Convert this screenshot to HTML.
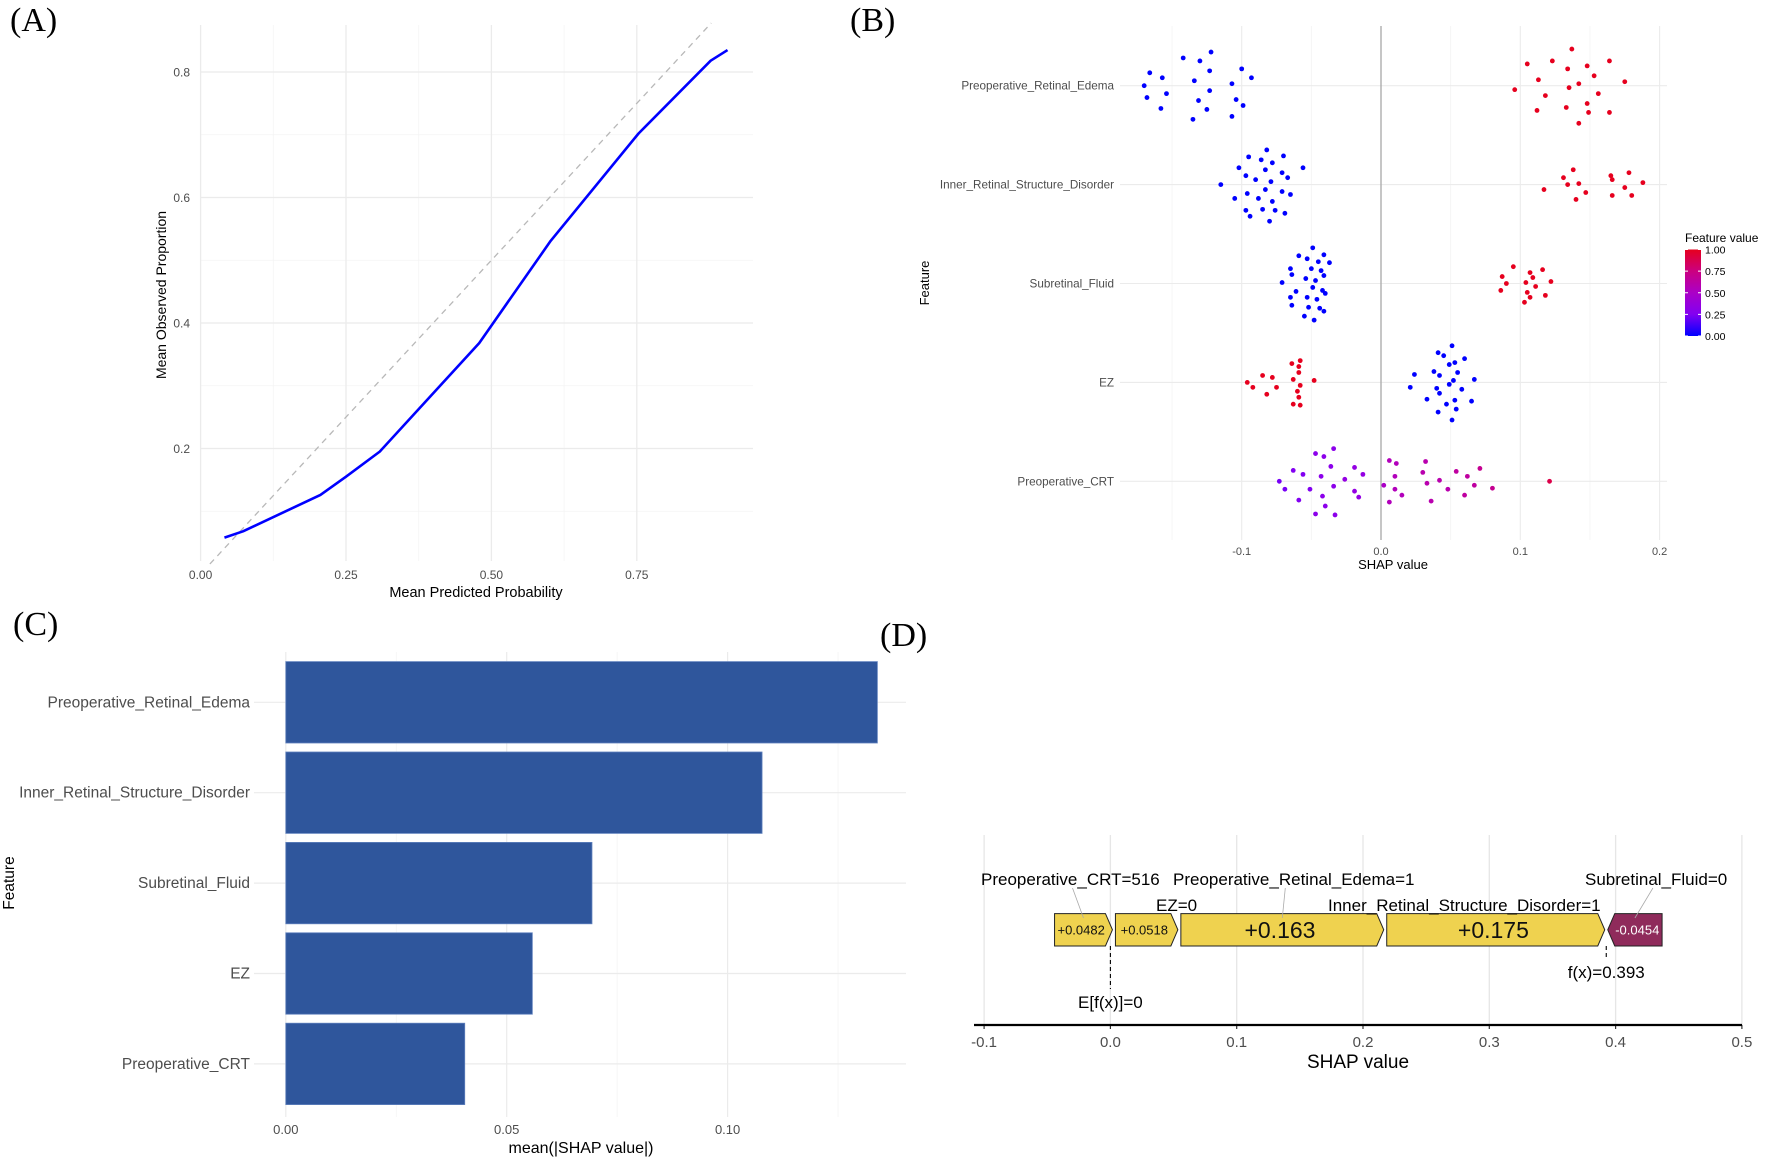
<!DOCTYPE html>
<html><head><meta charset="utf-8"><style>
html,body{margin:0;padding:0;background:#fff}
svg{display:block}
text{font-family:"Liberation Sans",Arial,sans-serif}
.lbl{font-family:"Liberation Serif",serif;font-size:34px;fill:#000}
</style></head><body>
<svg id="fig" width="1772" height="1161" viewBox="0 0 1772 1161" xmlns="http://www.w3.org/2000/svg">
<text class="lbl" x="10" y="31">(A)</text>
<text class="lbl" x="850" y="31">(B)</text>
<text class="lbl" x="13" y="635">(C)</text>
<text class="lbl" x="880" y="646">(D)</text>
<g id="pa"></g>
<g id="pb"></g>
<g id="pc"></g>
<g id="pd"></g>
</svg>
<script>
// ---------- Panel A data ----------
const calX = [0.041,0.073,0.206,0.25,0.308,0.479,0.602,0.753,0.877,0.906];
const calY = [0.058,0.068,0.126,0.155,0.195,0.368,0.531,0.702,0.818,0.835];
const aXTicks = ["0.00","0.25","0.50","0.75"];
const aXTickVals = [0,0.25,0.5,0.75];
const aYTicks = ["0.2","0.4","0.6","0.8"];
const aYTickVals = [0.2,0.4,0.6,0.8];

// ---------- Panel B data ----------
const features = ["Preoperative_Retinal_Edema","Inner_Retinal_Structure_Disorder","Subretinal_Fluid","EZ","Preoperative_CRT"];
const bTickVals = [-0.1,0,0.1,0.2];
const bTicks = ["-0.1","0.0","0.1","0.2"];
const edemaShap = [-0.122,-0.142,-0.130,-0.100,-0.166,-0.123,-0.157,-0.093,-0.134,-0.107,-0.170,-0.123,-0.154,-0.168,-0.131,-0.104,-0.099,-0.158,-0.125,-0.107,-0.135,
 0.137,0.105,0.123,0.164,0.148,0.134,0.153,0.113,0.175,0.142,0.135,0.096,0.156,0.118,0.148,0.133,0.112,0.149,0.164,0.142];
const edemaJit = [-0.34,-0.28,-0.25,-0.17,-0.13,-0.15,-0.08,-0.08,-0.05,-0.02,0,0.05,0.08,0.12,0.15,0.14,0.20,0.23,0.24,0.31,0.34,
 -0.37,-0.22,-0.25,-0.25,-0.20,-0.17,-0.10,-0.06,-0.04,-0.02,0.02,0.04,0.08,0.10,0.18,0.22,0.25,0.27,0.27,0.38];
const edemaVal = [0,0,0,0,0,0,0,0,0,0,0,0,0,0,0,0,0,0,0,0,0,1,1,1,1,1,1,1,1,1,1,1,1,1,1,1,1,1,1,1,1];
const innerShap = [-0.082,-0.070,-0.095,-0.086,-0.078,-0.102,-0.083,-0.056,-0.071,-0.097,-0.090,-0.067,-0.079,-0.115,-0.083,-0.071,-0.096,-0.065,-0.088,-0.105,-0.078,-0.085,-0.097,-0.076,-0.069,-0.094,-0.080,
 0.138,0.131,0.165,0.178,0.166,0.134,0.142,0.117,0.175,0.188,0.147,0.166,0.180,0.140];
const innerJit = [-0.35,-0.29,-0.28,-0.25,-0.22,-0.17,-0.15,-0.17,-0.12,-0.09,-0.05,-0.07,-0.03,0,0.05,0.07,0.09,0.10,0.14,0.14,0.17,0.25,0.26,0.26,0.29,0.32,0.37,
 -0.15,-0.07,-0.09,-0.12,-0.05,0,-0.01,0.05,0.03,-0.02,0.08,0.11,0.11,0.15];
const innerVal = [0,0,0,0,0,0,0,0,0,0,0,0,0,0,0,0,0,0,0,0,0,0,0,0,0,0,0,1,1,1,1,1,1,1,1,1,1,1,1,1,1];
const subShap = [-0.049,-0.059,-0.041,-0.053,-0.045,-0.037,-0.065,-0.050,-0.043,-0.064,-0.054,-0.041,-0.071,-0.047,-0.049,-0.061,-0.042,-0.040,-0.065,-0.053,-0.046,-0.064,-0.052,-0.044,-0.041,-0.055,-0.048,
 0.095,0.116,0.107,0.087,0.109,0.122,0.090,0.104,0.111,0.086,0.105,0.118,0.107,0.103];
const subJit = [-0.36,-0.28,-0.29,-0.25,-0.22,-0.21,-0.15,-0.15,-0.13,-0.09,-0.05,-0.08,-0.01,-0.03,0.04,0.08,0.07,0.10,0.14,0.14,0.16,0.22,0.24,0.25,0.28,0.33,0.37,
 -0.17,-0.14,-0.11,-0.07,-0.06,-0.02,0,-0.01,0.03,0.07,0.09,0.12,0.14,0.19];
const subVal = [0,0,0,0,0,0,0,0,0,0,0,0,0,0,0,0,0,0,0,0,0,0,0,0,0,0,0,1,1,1,1,1,1,1,1,1,1,1,1,1,1];
const ezShap = [-0.058,-0.064,-0.059,-0.059,-0.085,-0.078,-0.063,-0.048,-0.096,-0.058,-0.092,-0.075,-0.060,-0.082,-0.059,-0.063,-0.058,
 0.051,0.041,0.045,0.060,0.053,0.049,0.024,0.038,0.055,0.042,0.067,0.052,0.049,0.021,0.040,0.058,0.042,0.033,0.053,0.065,0.047,0.054,0.041,0.051];
const ezJit = [-0.22,-0.19,-0.16,-0.10,-0.07,-0.05,-0.03,-0.02,0,0.03,0.05,0.05,0.09,0.12,0.15,0.22,0.23,
 -0.37,-0.30,-0.27,-0.24,-0.20,-0.18,-0.08,-0.11,-0.10,-0.07,-0.03,-0.02,0.02,0.05,0.06,0.07,0.11,0.17,0.18,0.19,0.22,0.27,0.30,0.38];
const ezVal = [1,1,1,1,1,1,1,1,1,1,1,1,1,1,1,1,1,0,0,0,0,0,0,0,0,0,0,0,0,0,0,0,0,0,0,0,0,0,0,0,0];
const crtShap = [-0.034,-0.047,-0.041,-0.036,-0.063,-0.019,-0.056,-0.013,-0.043,-0.026,-0.073,-0.034,-0.069,-0.051,-0.019,-0.016,-0.042,-0.059,-0.040,-0.047,-0.033,
 0.006,0.011,0.032,0.010,0.030,0.054,0.071,0.062,0.042,0.002,0.010,0.033,0.067,0.048,0.080,0.015,0.060,0.036,0.006,0.121];
const crtJit = [-0.33,-0.28,-0.25,-0.15,-0.11,-0.14,-0.07,-0.07,-0.05,-0.02,0,0.05,0.08,0.08,0.10,0.16,0.15,0.19,0.25,0.33,0.34,
 -0.21,-0.18,-0.20,-0.05,-0.09,-0.10,-0.13,-0.05,-0.01,0.04,0.08,0.02,0.04,0.08,0.07,0.14,0.14,0.20,0.21,0];
const crtVal = [0.3,0.3,0.3,0.3,0.25,0.35,0.25,0.35,0.3,0.35,0.2,0.3,0.2,0.25,0.35,0.35,0.3,0.25,0.3,0.3,0.3,
 0.55,0.55,0.6,0.55,0.6,0.65,0.7,0.65,0.6,0.5,0.55,0.6,0.65,0.6,0.7,0.55,0.65,0.6,0.55,0.9];
const legendTicks = ["1.00","0.75","0.50","0.25","0.00"];
const legendVals = [1,0.75,0.5,0.25,0];

// ---------- Panel C data ----------
const meanAbs = [0.1339,0.1078,0.0693,0.0558,0.0405];
const cTickVals = [0,0.05,0.10];
const cTicks = ["0.00","0.05","0.10"];

// ---------- Panel D data ----------
const forceNames = ["Preoperative_CRT=516","EZ=0","Preoperative_Retinal_Edema=1","Inner_Retinal_Structure_Disorder=1","Subretinal_Fluid=0"];
const forceVals = [0.0482,0.0518,0.163,0.175,-0.0454];
const forceText = ["+0.0482","+0.0518","+0.163","+0.175","-0.0454"];
const baseValue = 0;
const dTickVals = [-0.1,0,0.1,0.2,0.3,0.4,0.5];
const dTicks = ["-0.1","0.0","0.1","0.2","0.3","0.4","0.5"];

const NS="http://www.w3.org/2000/svg";
function mk(tag, attrs, parent, txt){
  const e=document.createElementNS(NS,tag);
  for(const k in attrs) e.setAttribute(k,attrs[k]);
  if(txt!==undefined) e.textContent=txt;
  parent.appendChild(e); return e;
}

// ===== Panel A =====
(function(){
  const g=document.getElementById('pa');
  const x=v=>200.6+v*581.6, y=v=>574-v*627.5;
  const L=200.6,R=753,T=25,B=561;
  [0.125,0.375,0.625].forEach(v=>{const l=mk('line',{x1:x(v),x2:x(v),y1:T,y2:B,stroke:'#f4f4f4','stroke-width':0.8},g);});
  [0.1,0.3,0.5,0.7].forEach(v=>{const l=mk('line',{x1:L,x2:R,y1:y(v),y2:y(v),stroke:'#f4f4f4','stroke-width':0.8},g);});
  aXTickVals.forEach((v,i)=>{
    const l=mk('line',{x1:x(v),x2:x(v),y1:T,y2:B,stroke:'#ebebeb','stroke-width':1.3},g);
    
    const t=mk('text',{x:x(v),y:579,'font-size':12,fill:'#4d4d4d','text-anchor':'middle'},g,aXTicks[i]);
    
  });
  aYTickVals.forEach((v,i)=>{
    const l=mk('line',{x1:L,x2:R,y1:y(v),y2:y(v),stroke:'#ebebeb','stroke-width':1.3},g);
    
    const t=mk('text',{x:190,y:y(v)+4.5,'font-size':12,fill:'#4d4d4d','text-anchor':'end'},g,aYTicks[i]);
    
  });
  const d=mk('line',{x1:x(0.016),y1:y(0.016),x2:x(0.878),y2:y(0.878),stroke:'#b8b8b8','stroke-width':1.3,'stroke-dasharray':'6,5'},g);
  
  const p=mk('polyline',{points:calX.map((v,i)=>x(v)+','+y(calY[i])).join(' '),fill:'none',stroke:'#0000ff','stroke-width':2.6,'stroke-linejoin':'round'},g);
  
  const xt=mk('text',{x:476,y:597,'font-size':14.5,fill:'#000','text-anchor':'middle'},g,'Mean Predicted Probability');
  
  const yt=mk('text',{x:0,y:0,'font-size':14,fill:'#000','text-anchor':'middle',transform:'translate(166,295) rotate(-90)'},g,'Mean Observed Proportion');
  
})();

// ===== Panel B =====
(function(){
  const g=document.getElementById('pb');
  const x=v=>1381+v*1393, rowY=i=>85.7+i*98.9;
  const L=1120,R=1667,T=26,B=540;
  [-0.15,-0.05,0.05,0.15].forEach(v=>{const l=mk('line',{x1:x(v),x2:x(v),y1:T,y2:B,stroke:'#f4f4f4','stroke-width':0.8},g);});
  bTickVals.forEach((v,i)=>{
    const l=mk('line',{x1:x(v),x2:x(v),y1:T,y2:B,stroke:'#ebebeb','stroke-width':1.1},g);
    
    const t=mk('text',{x:x(v),y:555,'font-size':11,fill:'#4d4d4d','text-anchor':'middle'},g,bTicks[i]);
    
  });
  features.forEach((f,i)=>{
    const l=mk('line',{x1:L,x2:R,y1:rowY(i),y2:rowY(i),stroke:'#ebebeb','stroke-width':1.1},g);
    
    const t=mk('text',{x:1114,y:rowY(i)+4,'font-size':11.7,fill:'#4d4d4d','text-anchor':'end'},g,f);
    
  });
  const z=mk('line',{x1:x(0),x2:x(0),y1:T,y2:B,stroke:'#a8a8a8','stroke-width':1.3},g);
  
  const col=v=>`rgb(${Math.round(30+200*Math.sqrt(v))},0,${Math.round(255-225*v*v)})`;
  const sets=[[edemaShap,edemaJit,edemaVal],[innerShap,innerJit,innerVal],[subShap,subJit,subVal],[ezShap,ezJit,ezVal],[crtShap,crtJit,crtVal]];
  sets.forEach((s,i)=>{
    s[0].forEach((v,k)=>{
      const c=mk('circle',{cx:x(v),cy:rowY(i)+s[1][k]*99,r:2.4,fill:s[2][k]===0?'#0000ff':col(s[2][k])},g);
      
    });
  });
  const xt=mk('text',{x:1393,y:569,'font-size':13,fill:'#000','text-anchor':'middle'},g,'SHAP value');
  
  const yt=mk('text',{x:0,y:0,'font-size':13,fill:'#000','text-anchor':'middle',transform:'translate(929,283) rotate(-90)'},g,'Feature');
  
  const defs=mk('defs',{},g);
  const lg=mk('linearGradient',{id:'fvgrad',x1:0,y1:1,x2:0,y2:0},defs);
  [0,0.25,0.5,0.75,1].forEach(v=>mk('stop',{offset:v,'stop-color':v===0?'#0000ff':col(v)},lg));
  const lt=mk('text',{x:1685,y:242,'font-size':12,fill:'#000'},g,'Feature value');
  
  const cb=mk('rect',{x:1685,y:249.5,width:16,height:86.5,fill:'url(#fvgrad)'},g);
  
  legendVals.forEach((v,i)=>{
    const yy=336-v*86.5;
    mk('line',{x1:1685,x2:1688,y1:yy,y2:yy,stroke:'#fff','stroke-width':1},g);
    mk('line',{x1:1698,x2:1701,y1:yy,y2:yy,stroke:'#fff','stroke-width':1},g);
    const t=mk('text',{x:1705,y:yy+4,'font-size':10.5,fill:'#000'},g,legendTicks[i]);
    
  });
})();

// ===== Panel C =====
(function(){
  const g=document.getElementById('pc');
  const x=v=>285.8+v*4418, rowY=i=>702.3+i*90.4;
  const L=254,R=906,T=652,B=1117;
  [0.025,0.075,0.125].forEach(v=>{const l=mk('line',{x1:x(v),x2:x(v),y1:T,y2:B,stroke:'#f4f4f4','stroke-width':0.8},g);});
  cTickVals.forEach((v,i)=>{
    const l=mk('line',{x1:x(v),x2:x(v),y1:T,y2:B,stroke:'#ebebeb','stroke-width':1.2},g);
    
    const t=mk('text',{x:x(v),y:1134,'font-size':13,fill:'#4d4d4d','text-anchor':'middle'},g,cTicks[i]);
    
  });
  features.forEach((f,i)=>{
    const l=mk('line',{x1:L,x2:R,y1:rowY(i),y2:rowY(i),stroke:'#ebebeb','stroke-width':1.2},g);
    
    const t=mk('text',{x:250,y:rowY(i)+5,'font-size':15.5,fill:'#4d4d4d','text-anchor':'end'},g,f);
    
    const b=mk('rect',{x:x(0),y:rowY(i)-40.7,width:x(meanAbs[i])-x(0),height:81.4,fill:'#2f569c',stroke:'#5f80bd','stroke-width':0.8},g);
    
  });
  const xt=mk('text',{x:581,y:1153,'font-size':16,fill:'#000','text-anchor':'middle'},g,'mean(|SHAP value|)');
  
  const yt=mk('text',{x:0,y:0,'font-size':15.5,fill:'#000','text-anchor':'middle',transform:'translate(14,883) rotate(-90)'},g,'Feature');
  
})();

// ===== Panel D =====
(function(){
  const g=document.getElementById('pd');
  const x=v=>1110.4+v*1263;
  const T=835,AX=1025;
  dTickVals.forEach((v,i)=>{
    const l=mk('line',{x1:x(v),x2:x(v),y1:T,y2:AX,stroke:'#e6e6e6','stroke-width':1.3},g);
    
    mk('line',{x1:x(v),x2:x(v),y1:AX,y2:AX+4,stroke:'#333','stroke-width':1.2},g);
    const t=mk('text',{x:x(v),y:1047,'font-size':15,fill:'#4d4d4d','text-anchor':'middle'},g,dTicks[i]);
    
  });
  const ax=mk('line',{x1:974,x2:1742,y1:AX,y2:AX,stroke:'#000','stroke-width':2.2},g);
  
  const fx=baseValue+forceVals.reduce((a,b)=>a+b,0);
  const posSum=forceVals.filter(v=>v>0).reduce((a,b)=>a+b,0);
  let cur=fx-posSum;
  const y0=913.6,y1=946,ym=(y0+y1)/2,tip=7,gap=1.5;
  const segs=[];
  forceVals.forEach((v,i)=>{
    if(v>0){segs.push({i:i,a:cur,b:cur+v});cur+=v;}
  });
  let ncur=fx;
  forceVals.forEach((v,i)=>{ if(v<0){segs.push({i:i,a:ncur,b:ncur-v});ncur-=v;} });
  segs.forEach(s=>{
    const v=forceVals[s.i];
    const xa=x(s.a)+gap, xb=x(s.b)-gap;
    let pts;
    if(v>0) pts=[[xa,y0],[xb-tip,y0],[xb,ym],[xb-tip,y1],[xa,y1]];
    else pts=[[xa+tip,y0],[xb,y0],[xb,y1],[xa+tip,y1],[xa,ym]];
    const p=mk('polygon',{points:pts.map(q=>q.join(',')).join(' '),fill:v>0?'#efd24f':'#8f2b5b',stroke:'#222','stroke-width':1},g);
    
    const big=Math.abs(v)>0.1;
    const t=mk('text',{x:(xa+xb)/2-(v>0?tip/3:-tip/3),y:ym+(big?8:4.5),'font-size':big?23:13,fill:v>0?'#111':'#fff','text-anchor':'middle'},g,forceText[s.i]);
    
  });
  const segOf=i=>segs.find(s=>s.i===i);
  const lab=[ {i:0,lx:981,ly:885,row:0}, {i:1,lx:1156,ly:911,row:1}, {i:2,lx:1173,ly:885,row:0}, {i:3,lx:1328,ly:911,row:1}, {i:4,lx:1585,ly:885,row:0} ];
  lab.forEach(o=>{
    const t=mk('text',{x:o.lx,y:o.ly,'font-size':17,fill:'#000'},g,forceNames[o.i]);
    
    if(o.row===0){
      const s=segOf(o.i), cx=(x(s.a)+x(s.b))/2;
      const ln=mk('line',{x1:o.i===4?cx+18:(o.i===0?cx-11:cx+3),y1:888,x2:cx,y2:918,stroke:'#aaa','stroke-width':0.8},g);
      
    }
  });
  const e1=mk('line',{x1:x(baseValue),x2:x(baseValue),y1:946,y2:989,stroke:'#000','stroke-width':1.1,'stroke-dasharray':'4,3'},g);
  
  const et=mk('text',{x:x(baseValue),y:1008,'font-size':17,fill:'#000','text-anchor':'middle'},g,'E[f(x)]='+baseValue);
  
  const f1=mk('line',{x1:x(fx),x2:x(fx),y1:946,y2:960,stroke:'#000','stroke-width':1.1,'stroke-dasharray':'4,3'},g);
  
  const ft=mk('text',{x:x(fx),y:978,'font-size':17,fill:'#000','text-anchor':'middle'},g,'f(x)='+fx.toFixed(3));
  
  const xt=mk('text',{x:1358,y:1068,'font-size':19,fill:'#000','text-anchor':'middle'},g,'SHAP value');
  
})();
</script>
</body></html>
